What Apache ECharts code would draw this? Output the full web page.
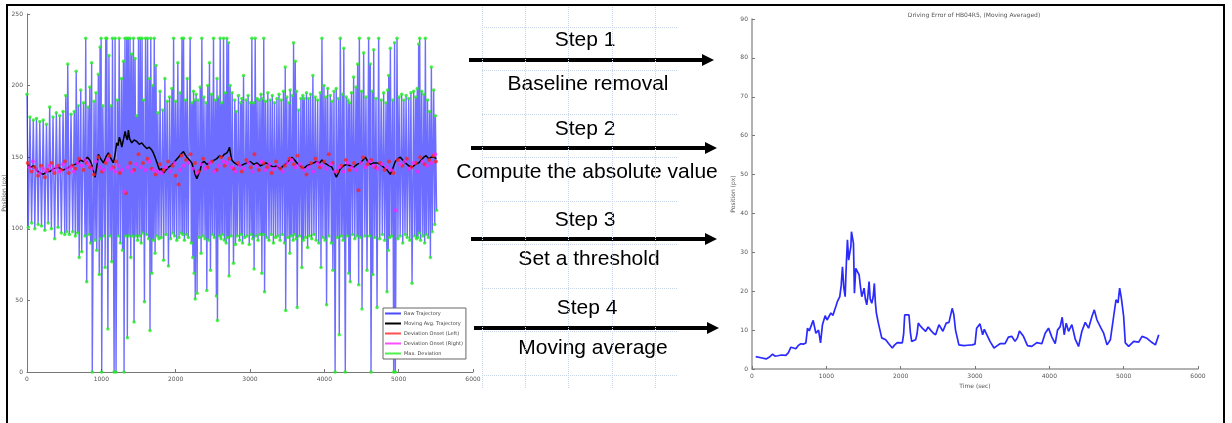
<!DOCTYPE html>
<html>
<head>
<meta charset="utf-8">
<script src="https://cdn.jsdelivr.net/npm/echarts@6/dist/echarts.min.js"></script>
<style>
  html, body { margin: 0; padding: 0; background: #fff; }
  #chart { width: 1232px; height: 423px; }
</style>
</head>
<body>
<div id="chart"></div>
<script>
// left panel: raw trajectory, zig-zag between the extremes (time, px)
var rawTrajectory = [
  [0,194],[18,101],[40,178],[62,104],[85,176],[105,100],[128,177],[150,103],[172,175],[195,102],
  [218,176],[240,99],[262,173],[285,104],[305,185],[328,100],[350,178],[372,93],[395,181],[418,101],
  [440,179],[462,97],[485,182],[508,96],[522,193],[535,98],[548,215],[570,96],[592,180],[615,98],
  [636,182],[650,95],[662,210],[680,97],[691,186],[702,80],[723,197],[736,84],[760,188],[780,95],
  [790,233],[803,63],[822,185],[835,96],[845,199],[856,90],[870,216],[878,0],[902,189],[915,92],
  [928,195],[938,85],[960,208],[972,68],[983,227],[990,93],[997,233],[1005,0],[1020,186],[1040,95],
  [1060,233],[1050,73],[1073,233],[1088,30],[1102,221],[1118,95],[1130,186],[1140,77],[1150,233],[1172,0],
  [1185,233],[1198,0],[1215,190],[1228,95],[1240,233],[1255,90],[1272,205],[1285,85],[1297,217],[1306,0],
  [1318,233],[1330,95],[1342,233],[1350,24],[1362,233],[1374,95],[1386,233],[1396,80],[1408,222],[1420,95],
  [1432,233],[1440,35],[1454,219],[1466,95],[1477,179],[1488,92],[1500,233],[1512,95],[1524,233],[1536,90],
  [1548,233],[1557,97],[1566,190],[1580,49],[1595,233],[1608,96],[1622,233],[1636,93],[1648,205],[1655,29],
  [1665,233],[1678,69],[1690,200],[1700,92],[1712,233],[1723,83],[1735,214],[1748,95],[1760,181],[1775,93],
  [1790,196],[1805,94],[1826,183],[1838,78],[1855,205],[1870,96],[1885,189],[1903,74],[1918,192],[1932,93],
  [1950,198],[1962,97],[1972,233],[1985,95],[2000,189],[2015,92],[2029,216],[2045,94],[2060,195],[2072,97],
  [2085,233],[2095,96],[2106,233],[2118,92],[2132,190],[2145,96],[2155,205],[2170,94],[2195,233],[2210,90],
  [2220,188],[2231,80],[2240,196],[2249,69],[2256,190],[2263,51],[2275,194],[2288,55],[2300,190],[2315,94],
  [2330,199],[2342,83],[2352,233],[2366,95],[2380,192],[2395,93],[2410,188],[2419,57],[2432,200],[2442,92],
  [2455,216],[2468,71],[2482,194],[2495,96],[2509,233],[2520,94],[2535,190],[2548,53],[2556,205],[2562,36],
  [2575,192],[2588,95],[2599,233],[2610,93],[2621,188],[2632,96],[2644,233],[2656,92],[2668,195],[2680,90],
  [2689,233],[2700,94],[2711,230],[2718,67],[2733,200],[2745,95],[2760,195],[2778,76],[2795,190],[2805,89],
  [2814,182],[2828,95],[2845,193],[2860,92],[2875,188],[2884,96],[2890,191],[2900,90],[2913,207],[2928,94],
  [2949,190],[2960,95],[2975,193],[2990,89],[3005,188],[3015,96],[3025,233],[3036,93],[3048,188],[3055,72],
  [3070,233],[3082,95],[3095,191],[3108,92],[3122,190],[3135,96],[3148,194],[3160,69],[3170,191],[3178,96],
  [3185,233],[3196,56],[3210,189],[3222,94],[3240,195],[3255,92],[3272,190],[3285,96],[3300,193],[3315,90],
  [3330,188],[3345,94],[3362,191],[3375,95],[3390,194],[3405,92],[3420,190],[3435,96],[3450,196],[3465,90],
  [3474,213],[3480,43],[3495,192],[3510,94],[3525,188],[3536,83],[3541,197],[3555,95],[3570,193],[3580,92],
  [3586,230],[3598,96],[3609,217],[3620,93],[3625,196],[3635,45],[3654,183],[3668,95],[3685,191],[3698,73],
  [3710,193],[3718,92],[3730,191],[3745,94],[3760,195],[3775,87],[3788,191],[3800,95],[3815,194],[3830,93],
  [3846,207],[3860,96],[3878,192],[3890,92],[3910,190],[3925,90],[3945,195],[3955,73],[3968,233],[3980,94],
  [3995,200],[4010,92],[4020,192],[4030,47],[4045,198],[4060,95],[4080,193],[4095,90],[4102,189],[4115,71],
  [4130,196],[4145,0],[4160,198],[4175,94],[4190,191],[4201,26],[4215,233],[4230,95],[4245,194],[4252,92],
  [4262,226],[4282,0],[4295,192],[4310,95],[4320,190],[4330,69],[4340,188],[4348,63],[4365,195],[4380,96],
  [4394,206],[4410,93],[4426,199],[4440,95],[4448,215],[4462,61],[4471,233],[4485,94],[4500,196],[4507,44],
  [4529,223],[4545,95],[4560,192],[4574,71],[4596,233],[4610,95],[4618,215],[4628,0],[4645,196],[4652,68],
  [4664,225],[4678,94],[4695,191],[4709,45],[4731,233],[4745,93],[4765,190],[4780,96],[4798,195],[4812,92],
  [4830,188],[4843,56],[4852,197],[4860,85],[4866,207],[4878,94],[4888,226],[4905,95],[4920,190],[4933,0],
  [4945,230],[4955,0],[4978,233],[4990,93],[5005,192],[5020,95],[5040,194],[5055,90],[5070,190],[5085,96],
  [5100,193],[5115,94],[5135,191],[5150,92],[5165,195],[5180,62],[5202,196],[5215,95],[5230,192],[5240,93],
  [5250,198],[5260,94],[5269,229],[5276,97],[5283,233],[5295,92],[5310,196],[5325,95],[5340,194],[5350,90],
  [5359,233],[5372,96],[5388,190],[5400,94],[5415,182],[5427,80],[5440,213],[5452,98],[5471,197],[5485,103],
  [5494,179],[5510,113]
];

// moving average of the trajectory
var movingAvg = [
  [18,145],[40,143],[63,142],[95,144],[130,141],[175,139],[220,138],[265,140],[310,140],[360,142],
  [422,143],[480,141],[534,142],[590,144],[646,145],[690,146],[714,148],[760,147],[812,150],[845,148],
  [870,145],[895,140],[916,136],[940,144],[960,152],[990,149],[1028,146],[1060,150],[1095,153],[1130,149],
  [1162,146],[1185,152],[1207,160],[1225,158],[1243,164],[1260,161],[1275,157],[1300,163],[1320,168],[1335,164],
  [1351,162],[1364,169],[1380,163],[1409,160],[1440,162],[1477,161],[1510,159],[1544,160],[1575,158],[1611,156],
  [1645,157],[1679,155],[1700,153],[1723,150],[1750,146],[1782,141],[1810,142],[1836,139],[1870,141],[1903,143],
  [1935,144],[1970,146],[2005,148],[2038,150],[2070,152],[2105,154],[2125,152],[2150,150],[2185,148],[2217,146],
  [2240,142],[2262,138],[2285,135],[2307,136],[2330,141],[2352,146],[2385,147],[2419,145],[2455,146],[2487,147],
  [2520,148],[2554,149],[2590,151],[2621,150],[2655,152],[2689,153],[2710,155],[2724,157],[2740,152],[2756,148],
  [2790,146],[2823,145],[2870,144],[2913,145],[2960,146],[3003,147],[3050,145],[3092,146],[3140,144],[3182,145],
  [3215,146],[3250,145],[3285,144],[3317,143],[3360,144],[3407,142],[3450,144],[3496,146],[3530,148],[3564,150],
  [3600,148],[3631,146],[3675,144],[3721,142],[3765,144],[3811,145],[3855,146],[3900,147],[3935,146],[3968,148],
  [4000,146],[4035,145],[4070,144],[4102,143],[4130,140],[4161,136],[4190,139],[4215,142],[4260,144],[4304,145],
  [4350,144],[4394,143],[4440,145],[4484,146],[4520,148],[4551,150],[4585,147],[4619,145],[4665,146],[4709,146],
  [4755,145],[4798,143],[4845,141],[4888,138],[4920,142],[4955,147],[4990,149],[5022,150],[5055,148],[5090,146],
  [5135,144],[5180,143],[5225,145],[5269,146],[5305,148],[5337,150],[5370,151],[5404,149],[5440,150],[5471,150],
  [5507,149]
];

// deviation onsets
var onsetLeft = [
  [10,146],[60,140],[100,143],[150,137],[190,144],[240,136],[280,141],[330,146],[370,139],[420,144],
  [460,141],[510,147],[560,139],[610,144],[650,142],[700,149],[760,141],[800,146],[850,143],[900,138],
  [960,150],[1010,140],[1060,146],[1110,151],[1160,143],[1200,147],[1250,139],[1330,125],[1390,146],[1440,141],
  [1500,152],[1560,146],[1620,149],[1680,142],[1730,138],[1790,145],[1840,141],[1900,147],[1960,144],[2000,137],
  [2040,131],[2080,151],[2140,148],[2200,152],[2260,146],[2310,140],[2370,149],[2430,143],[2490,147],[2550,141],
  [2610,150],[2660,144],[2720,149],[2780,142],[2840,146],[2890,140],[2950,148],[3010,143],[3060,152],[3120,141],
  [3180,146],[3230,143],[3290,139],[3350,147],[3410,142],[3470,144],[3530,149],[3590,145],[3640,151],[3700,143],
  [3760,138],[3820,146],[3880,149],[3940,143],[4000,147],[4060,152],[4110,146],[4170,140],[4230,144],[4290,148],
  [4340,141],[4400,146],[4460,127],[4520,150],[4580,145],[4630,148],[4690,143],[4750,146],[4810,141],[4870,147],
  [4930,139],[4990,148],[5050,144],[5110,149],[5170,143],[5230,146],[5290,150],[5350,145],[5410,148],[5470,151],
  [5500,147]
];
var onsetRight = [
  [30,143],[80,147],[125,141],[175,139],[215,142],[260,140],[305,144],[350,141],[395,143],[440,140],
  [485,145],[535,142],[585,143],[630,140],[680,146],[730,144],[780,148],[830,145],[880,142],[930,147],
  [985,143],[1035,141],[1085,148],[1135,142],[1185,140],[1230,144],[1280,141],[1310,126],[1360,143],[1415,140],
  [1470,145],[1530,143],[1590,141],[1650,147],[1705,141],[1760,140],[1815,139],[1870,143],[1930,140],[1985,146],
  [2060,141],[2110,144],[2170,146],[2230,142],[2285,139],[2340,145],[2400,142],[2460,146],[2520,140],[2580,144],
  [2640,147],[2690,146],[2750,143],[2810,140],[2865,144],[2920,142],[2980,146],[3035,140],[3090,144],[3150,147],
  [3205,141],[3260,145],[3320,142],[3380,144],[3440,140],[3500,146],[3560,148],[3615,143],[3670,145],[3730,141],
  [3790,143],[3850,140],[3910,146],[3970,144],[4030,142],[4085,145],[4140,140],[4200,143],[4260,140],[4315,146],
  [4370,143],[4430,141],[4490,146],[4550,143],[4605,147],[4660,144],[4720,142],[4780,145],[4840,143],[4900,141],
  [4960,113],[5020,145],[5080,147],[5140,142],[5200,146],[5260,140],[5320,147],[5380,144],[5440,146],[5490,152]
];

// right panel: driving error, moving averaged
var errTime = [
  50,120,190,230,277,310,345,400,456,490,523,560,590,620,657,690,725,747,770,792,
  823,859,895,922,948,984,1010,1029,1061,1090,1105,1130,1150,1181,1200,1217,1235,1253,1270,1284,
  1300,1315,1330,1338,1350,1365,1378,1396,1420,1441,1460,1477,1508,1525,1544,1560,1575,1590,1611,1630,
  1646,1660,1673,1700,1745,1799,1840,1888,1920,1955,2022,2040,2054,2080,2112,2130,2148,2201,2220,2237,
  2260,2291,2336,2370,2403,2440,2470,2515,2540,2568,2613,2650,2693,2715,2738,2783,2850,2900,2962,3000,
  3022,3067,3103,3125,3148,3202,3256,3300,3337,3404,3449,3494,3539,3570,3598,3652,3706,3764,3832,3899,
  3944,3989,4034,4079,4110,4146,4173,4200,4227,4258,4303,4348,4393,4438,4483,4528,4573,4605,4641,4695,
  4731,4776,4821,4865,4897,4924,4946,4969,5000,5022,5067,5135,5202,5247,5314,5382,5427,5450,5472
];
var errValue = [
  3.2,2.9,2.6,3.0,3.8,3.3,3.4,3.6,3.5,4.2,5.6,5.4,5.2,6.0,6.5,6.4,6.7,10.5,9.8,10.0,
  12.5,9.2,10.0,6.7,11.4,13.7,12.6,13.0,14.4,13.8,14.8,16.2,17.4,18.6,21.5,26.3,21.0,18.6,27.5,33.2,
  28.0,27.6,31.5,35.3,34.0,32.3,19.5,25.9,25.0,24.2,21.0,18.6,20.8,18.0,16.5,19.0,22.5,18.0,16.9,18.5,
  22.0,17.0,14.4,11.8,8.0,7.5,6.5,5.4,6.2,6.8,6.7,9.0,13.9,14.2,13.9,9.5,7.1,7.5,9.0,11.8,
  11.2,10.5,9.7,10.8,10.0,9.2,8.8,11.4,10.6,9.7,11.8,12.0,15.6,14.0,10.0,6.2,6.0,6.1,6.2,6.4,
  10.5,11.6,8.8,10.2,10.5,7.1,5.4,6.0,6.5,6.5,8.2,8.4,7.1,8.0,9.8,8.4,6.0,5.8,6.8,6.5,
  9.2,10.5,8.2,6.5,10.0,10.9,13.3,8.8,11.8,9.7,11.4,7.7,5.8,9.7,12.0,10.5,13.5,15.2,12.6,10.5,
  9.2,6.2,7.5,13.5,17.8,17.0,20.8,18.2,13.5,6.7,5.8,7.1,6.9,8.4,7.9,6.8,6.2,6.4,8.8
];

// step labels of the middle panel
var stepTitles = ['Step 1', 'Step 2', 'Step 3', 'Step 4'];
var stepNotes = ['Baseline removal', 'Compute the absolute value', 'Set a threshold', 'Moving average'];

var chart = echarts.init(document.getElementById('chart'));

function plain(v) { return String(v); }
var tinyLabel = { fontSize: 6, color: '#555', fontFamily: 'DejaVu Sans' };
function tickLabel() { return Object.assign({ margin: 4, formatter: plain }, tinyLabel); }
var errData = errTime.map(function (t, i) { return [t, errValue[i]]; });

// arrows + texts of the middle panel
var arrowRows = [
  { ty: 40, ly: 60, ny: 84, x1: 469, x2: 714, cx: 585, nx: 588 },
  { ty: 129, ly: 148, ny: 172, x1: 471, x2: 717, cx: 585, nx: 587 },
  { ty: 220, ly: 239, ny: 259, x1: 471, x2: 717, cx: 585, nx: 589 },
  { ty: 308, ly: 328, ny: 348, x1: 474, x2: 719, cx: 587, nx: 593 }
];
var graphics = [];
arrowRows.forEach(function (r, i) {
  graphics.push({
    type: 'line', shape: { x1: r.x1, y1: r.ly, x2: r.x2 - 10, y2: r.ly },
    style: { stroke: '#000', lineWidth: 4 }
  });
  graphics.push({
    type: 'polygon', shape: { points: [[r.x2 - 12, r.ly - 6], [r.x2, r.ly], [r.x2 - 12, r.ly + 6]] },
    style: { fill: '#000' }
  });
  graphics.push({
    type: 'text',
    style: { x: r.cx, y: r.ty, text: stepTitles[i], align: 'center', verticalAlign: 'middle',
      fontSize: 21, fontFamily: 'Liberation Sans', fill: '#000' }
  });
  graphics.push({
    type: 'text',
    style: { x: r.nx, y: r.ny, text: stepNotes[i], align: 'center', verticalAlign: 'middle',
      fontSize: 21, fontFamily: 'Liberation Sans', fill: '#000' }
  });
});
graphics.push({
  type: 'text',
  style: { x: 974, y: 15, text: 'Driving Error of HB04R5, (Moving Averaged)', align: 'center',
    verticalAlign: 'middle', fontSize: 6, fontFamily: 'DejaVu Sans', fill: '#555' }
});
graphics.push({
  type: 'rect', z: 100, shape: { x: 7, y: 5, width: 1217, height: 440 },
  style: { fill: 'none', stroke: '#000', lineWidth: 2 }
});

var paperLine = { show: true, lineStyle: { color: '#c9d6ea', type: 'dotted', width: 1 } };
var hidden = { show: false };

var option = {
  animation: false,
  backgroundColor: '#fff',
  grid: [
    { left: 27, top: 14, width: 446, height: 358 },
    { left: 752, top: 19, width: 446, height: 350 },
    { left: 482, top: 5, width: 173.3, height: 383 },
    { left: 482, top: 27, width: 195, height: 348 }
  ],
  legend: {
    left: 383, top: 308, orient: 'vertical',
    itemWidth: 16, itemHeight: 2, itemGap: 5,
    padding: [3, 3, 3, 2],
    borderColor: '#666', borderWidth: 1, backgroundColor: '#fff',
    textStyle: { fontSize: 5, color: '#444', fontFamily: 'DejaVu Sans', padding: [0, 0, 0, -2] },
    data: [
      { name: 'Raw Trajectory', icon: 'rect' },
      { name: 'Moving Avg. Trajectory', icon: 'rect' },
      { name: 'Deviation Onset (Left)', icon: 'rect' },
      { name: 'Deviation Onset (Right)', icon: 'rect' },
      { name: 'Max. Deviation', icon: 'rect' }
    ]
  },
  xAxis: [
    { gridIndex: 0, type: 'value', min: 0, max: 6000, interval: 1000,
      axisLine: { lineStyle: { color: '#777' } },
      axisTick: { inside: true, length: 3, lineStyle: { color: '#777' } },
      axisLabel: tickLabel(), splitLine: hidden },
    { gridIndex: 1, type: 'value', min: 0, max: 6000, interval: 1000,
      name: 'Time (sec)', nameLocation: 'middle', nameGap: 13, nameTextStyle: tinyLabel,
      axisLine: { lineStyle: { color: '#999', width: 1.5 } },
      axisTick: { inside: true, length: 3, lineStyle: { color: '#777' } },
      axisLabel: tickLabel(), splitLine: hidden },
    { gridIndex: 2, type: 'value', min: 0, max: 4, interval: 1,
      axisLine: hidden, axisTick: hidden, axisLabel: hidden, splitLine: paperLine },
    { gridIndex: 3, type: 'value', min: 0, max: 1,
      axisLine: hidden, axisTick: hidden, axisLabel: hidden, splitLine: hidden }
  ],
  yAxis: [
    { gridIndex: 0, type: 'value', min: 0, max: 250, interval: 50,
      name: 'Position (px)', nameLocation: 'middle', nameGap: 15, nameTextStyle: tinyLabel,
      axisLine: { show: true, lineStyle: { color: '#777' } },
      axisTick: { show: true, inside: true, length: 3, lineStyle: { color: '#777' } },
      axisLabel: tickLabel(), splitLine: hidden },
    { gridIndex: 1, type: 'value', min: 0, max: 90, interval: 10,
      name: 'Position (px)', nameLocation: 'middle', nameGap: 14, nameTextStyle: tinyLabel,
      axisLine: { show: true, lineStyle: { color: '#999', width: 1.5 } },
      axisTick: { show: true, inside: true, length: 3, lineStyle: { color: '#777' } },
      axisLabel: tickLabel(), splitLine: hidden },
    { gridIndex: 2, type: 'value', min: 0, max: 1,
      axisLine: hidden, axisTick: hidden, axisLabel: hidden, splitLine: hidden },
    { gridIndex: 3, type: 'value', min: 0, max: 8, interval: 1,
      axisLine: hidden, axisTick: hidden, axisLabel: hidden, splitLine: paperLine }
  ],
  series: [
    { name: 'Raw Trajectory', type: 'line', xAxisIndex: 0, yAxisIndex: 0, z: 1,
      data: rawTrajectory, showSymbol: false,
      itemStyle: { color: '#4a4aff' },
      lineStyle: { color: 'rgba(20,20,255,0.62)', width: 1.4 } },
    { name: 'Max. Deviation', type: 'scatter', xAxisIndex: 0, yAxisIndex: 0, z: 2,
      data: rawTrajectory, symbolSize: 3.5, itemStyle: { color: '#22ee22' } },
    { name: 'Moving Avg. Trajectory', type: 'line', xAxisIndex: 0, yAxisIndex: 0, z: 3,
      data: movingAvg, showSymbol: false,
      itemStyle: { color: '#000' }, lineStyle: { color: '#000', width: 1.5 } },
    { name: 'Deviation Onset (Left)', type: 'scatter', xAxisIndex: 0, yAxisIndex: 0, z: 4,
      data: onsetLeft, symbolSize: 4, itemStyle: { color: '#ff2222' } },
    { name: 'Deviation Onset (Right)', type: 'scatter', xAxisIndex: 0, yAxisIndex: 0, z: 4,
      data: onsetRight, symbolSize: 4, itemStyle: { color: '#ff22ff' } },
    { name: 'Driving Error', type: 'line', xAxisIndex: 1, yAxisIndex: 1,
      data: errData, showSymbol: false,
      itemStyle: { color: '#2a2aff' }, lineStyle: { color: '#2a2aff', width: 1.7 } }
  ],
  graphic: graphics
};

chart.setOption(option);
</script>
</body>
</html>
